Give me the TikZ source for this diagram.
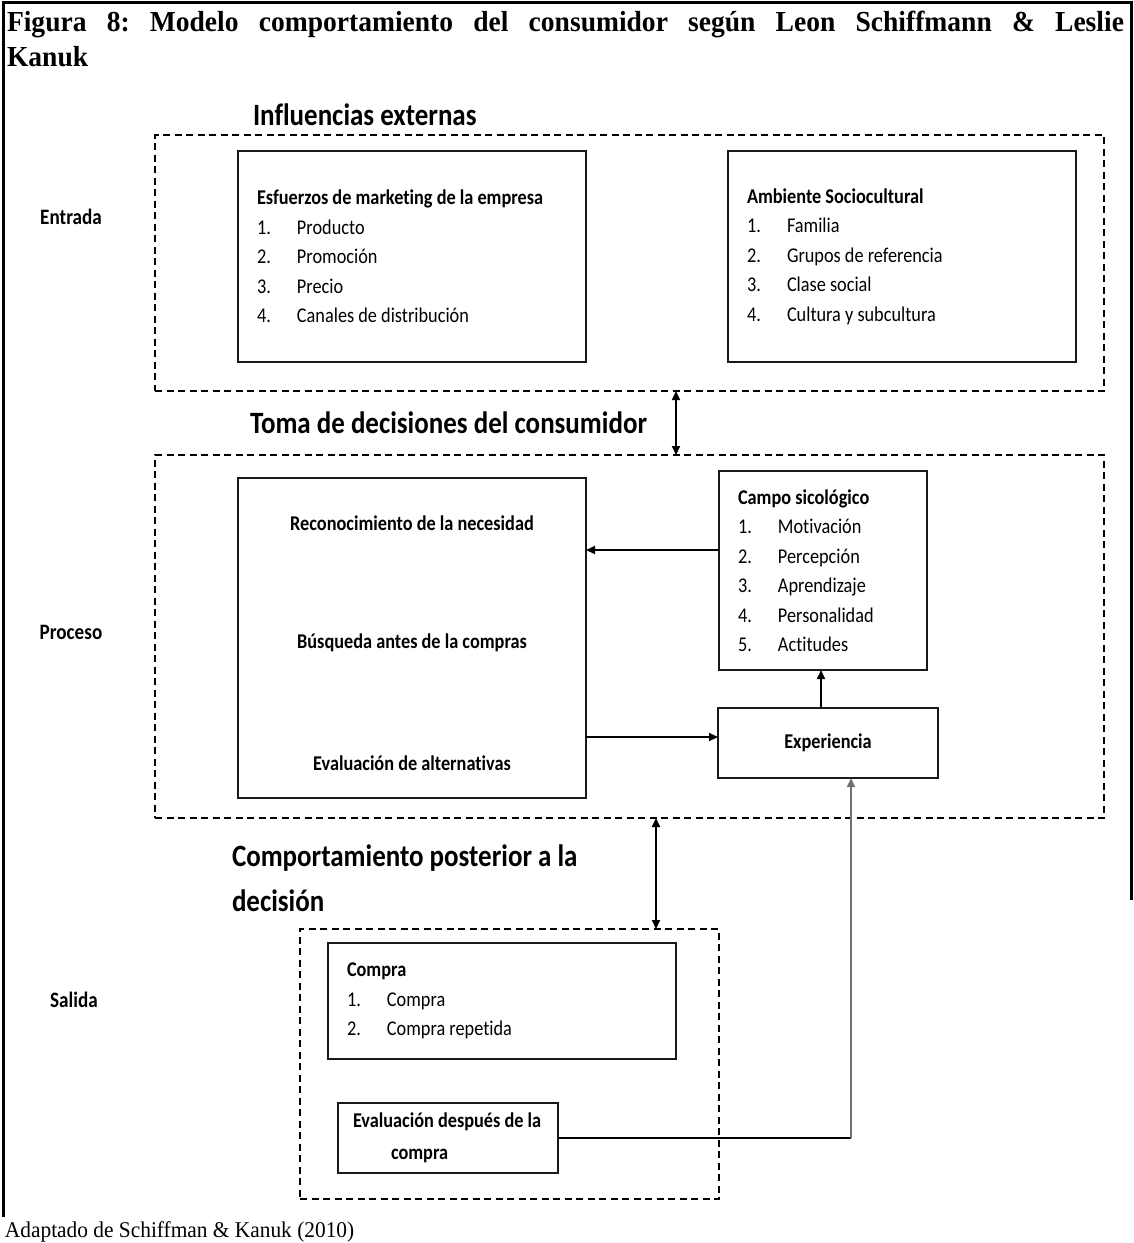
\documentclass[tikz,border=0pt]{standalone}
\usepackage{fontspec}
\setmainfont{Liberation Serif}[FakeStretch=0.95]
\newfontfamily\calfont{Carlito}[FakeStretch=0.87, Ligatures=NoCommon]
\usetikzlibrary{arrows.meta}

% numbered entry inside a list box
\newcommand\numitem[2]{\makebox[40pt][l]{#1}#2}

\begin{document}
\frenchspacing
\begin{tikzpicture}[x=1pt,y=-1pt,
  every node/.style={inner sep=0pt, outer sep=0pt},
  frameline/.style={line width=3pt},
  zone/.style={draw, line width=2pt, dash pattern=on 7pt off 4.5pt, anchor=north west},
  box/.style={draw=black!90, line width=2.2pt},
  body/.style={font=\calfont\fontsize{21}{29.5}\selectfont},
  bodyb/.style={font=\calfont\bfseries\fontsize{21}{29.5}\selectfont},
  listbox/.style={box, body, align=flush left, inner xsep=19pt, anchor=north west},
  heading/.style={font=\calfont\bfseries\fontsize{31}{45}\selectfont},
  stage/.style={font=\calfont\bfseries\fontsize{22}{26}\selectfont},
  arr/.style={-{Triangle[length=9pt,width=8pt]}, line width=2pt},
  dbl/.style={{Triangle[length=9pt,width=8pt]}-{Triangle[length=9pt,width=8pt]}, line width=1.8pt},
]
\useasboundingbox (0,0) rectangle (1134,1243);

% frame of the figure
\draw[frameline] (3,1217) -- (3,2) -- (1131,2) -- (1131,900);

% caption
\node[anchor=north west, text width=1117pt, align=justify,
      font=\bfseries\fontsize{29}{35}\selectfont] (title) at (7,11)
  {Figura 8: Modelo comportamiento del consumidor según Leon Schiffmann \& Leslie\linebreak Kanuk};

% ---------- Entrada ----------
\node[heading, anchor=base west] (hin) at (253,125) {Influencias externas};
\node[zone, minimum width=949pt, minimum height=256pt] (zin) at (155,135) {};
\node[stage] (lin) at (71,217) {Entrada};

\node[listbox, text width=310pt, minimum width=348pt, minimum height=211pt] (mkt) at (238,151)
  {\textbf{Esfuerzos de marketing de la empresa}\\
   \numitem{1.}{Producto}\\
   \numitem{2.}{Promoción}\\
   \numitem{3.}{Precio}\\
   \numitem{4.}{Canales de distribución}};

\node[listbox, text width=310pt, minimum width=348pt, minimum height=211pt] (soc) at (728,151)
  {\textbf{Ambiente Sociocultural}\\
   \numitem{1.}{Familia}\\
   \numitem{2.}{Grupos de referencia}\\
   \numitem{3.}{Clase social}\\
   \numitem{4.}{Cultura y subcultura}};

% ---------- Proceso ----------
\node[heading, anchor=base west] (hproc) at (250,433) {Toma de decisiones del consumidor};
\node[zone, minimum width=949pt, minimum height=363pt] (zproc) at (155,455) {};
\node[stage] (lproc) at (71,632) {Proceso};

\node[box, anchor=north west, minimum width=348pt, minimum height=320pt] (big) at (238,478) {};
\node[bodyb] (rec) at (412,523) {Reconocimiento de la necesidad};
\node[bodyb] (bus) at (412,643) {Búsqueda antes de la compras};
\node[bodyb] (alt) at (412,763) {Evaluación de alternativas};

\node[listbox, text width=170pt, minimum width=208pt, minimum height=199pt] (campo) at (719,471)
  {\textbf{Campo sicológico}\\
   \numitem{1.}{Motivación}\\
   \numitem{2.}{Percepción}\\
   \numitem{3.}{Aprendizaje}\\
   \numitem{4.}{Personalidad}\\
   \numitem{5.}{Actitudes}};

\node[box, bodyb, minimum width=220pt, minimum height=70pt] (exp) at (828,743) {Experiencia};

% ---------- Salida ----------
\node[heading, anchor=north west, align=left] (hout) at (232,845)
  {Comportamiento posterior a la\\decisión};
\node[zone, minimum width=419pt, minimum height=270pt] (zout) at (300,929) {};
\node[stage] (lout) at (74,1000) {Salida};

\node[listbox, text width=310pt, minimum width=348pt, minimum height=116pt] (buy) at (328,943)
  {\textbf{Compra}\\
   \numitem{1.}{Compra}\\
   \numitem{2.}{Compra repetida}};

\node[box, align=flush left, anchor=north west, text width=200pt, inner xsep=10pt,
      minimum width=220pt, minimum height=70pt,
      font=\calfont\bfseries\fontsize{21}{32}\selectfont] (eval) at (338,1103)
  {\hspace*{5pt}Evaluación después de la\\\hspace*{43pt}compra};

% source line
\node[anchor=west, font=\fontsize{22.5}{26}\selectfont] (src) at (5,1232)
  {Adaptado de Schiffman \& Kanuk (2010)};

% ---------- connectors ----------
\coordinate (colA) at (676,0);
\coordinate (colB) at (656,0);
\coordinate (colC) at (821,0);
\coordinate (colD) at (851,0);
\coordinate (rowA) at (0,550);
\coordinate (rowB) at (0,737);

\draw[dbl] (zin.south -| colA) -- (zproc.north -| colA);
\draw[dbl] (zproc.south -| colB) -- (zout.north -| colB);
\draw[arr] (campo.west |- rowA) -- (big.east |- rowA);
\draw[arr] (big.east |- rowB) -- (exp.west |- rowB);
\draw[arr] (exp.north -| colC) -- (campo.south -| colC);
\draw[line width=2pt] (eval.east) -- (eval.east -| colD) coordinate (turn);
\draw[arr, draw=black!55, fill=black!55] (turn) -- (exp.south -| colD);
\end{tikzpicture}
\end{document}
